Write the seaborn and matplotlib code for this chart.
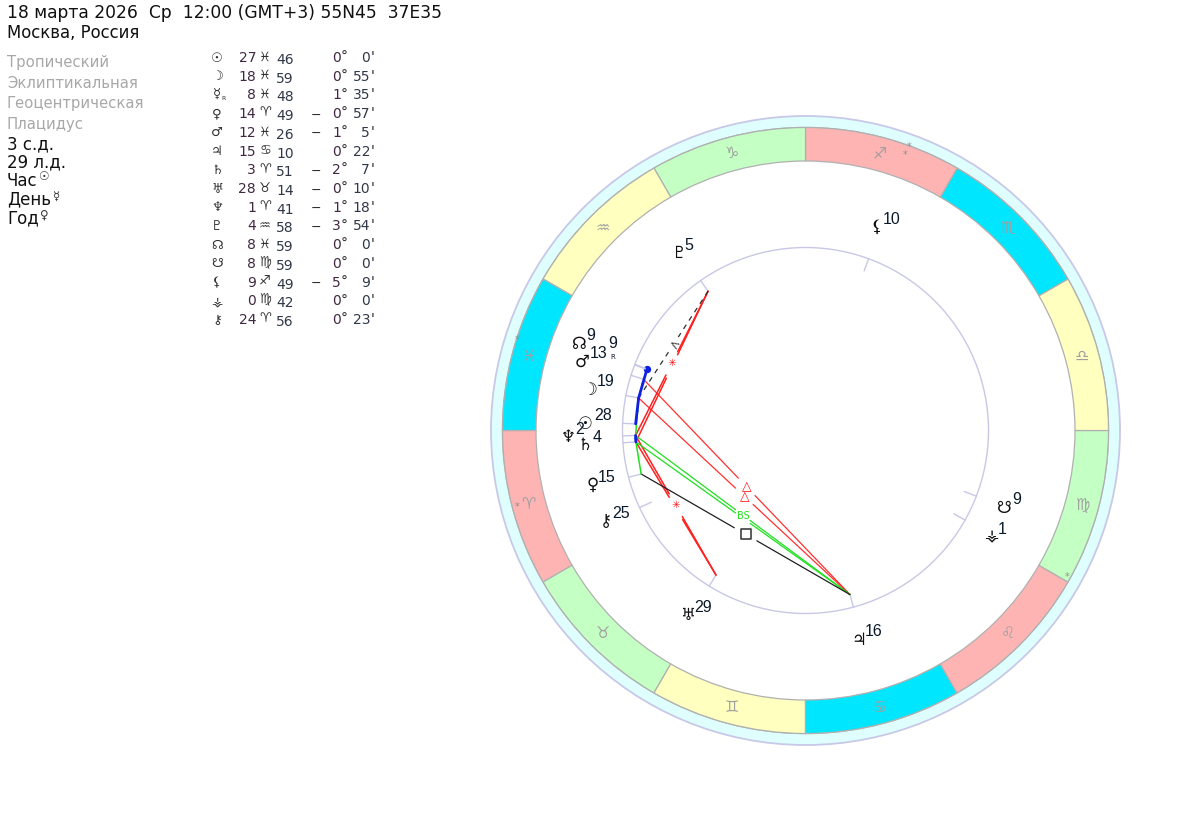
import numpy as np
import pandas as pd
import matplotlib
matplotlib.use("Agg")
import matplotlib.pyplot as plt
from matplotlib.patches import Wedge, Circle
import seaborn as sns

sns.set_style("white")
plt.rcParams["font.family"] = ["DejaVu Sans", "Noto Sans"]

# table values
body_names = ["sun", "moon", "mercury", "venus", "mars", "jupiter", "saturn", "uranus",
              "neptune", "pluto", "nnode", "snode", "lilith", "selena", "chiron"]
body_glyphs = ["☉", "☽", "☿", "♀", "♂", "♃", "♄", "♅", "♆", "♇", "☊", "☋", "⚸", "⚶", "⚷"]
body_deg = [27, 18, 8, 14, 12, 15, 3, 28, 1, 4, 8, 8, 9, 0, 24]
body_sign = [11, 11, 11, 0, 11, 3, 0, 1, 0, 10, 11, 5, 8, 5, 0]
body_min = [46, 59, 48, 49, 26, 10, 51, 14, 41, 58, 59, 59, 49, 42, 56]
speed_neg = [False, False, False, True, True, False, True, True, True, True, False, False, True, False, False]
speed_deg = [0, 0, 1, 0, 1, 0, 2, 0, 1, 3, 0, 0, 5, 0, 0]
speed_min = [0, 55, 35, 57, 5, 22, 7, 10, 18, 54, 0, 0, 9, 0, 23]

sign_glyphs = ["♈", "♉", "♊", "♋", "♌", "♍", "♎", "♏", "♐", "♑", "♒", "♓"]
sign_colors = ["#FFB4B4", "#C4FFC4", "#FFFFC0", "#00E6FF"] * 3

# aspect lines
aspect_pairs = {
    "trine": [("jupiter", "mars"), ("jupiter", "moon")],
    "sextile": [("pluto", "neptune"), ("pluto", "saturn"), ("uranus", "neptune"), ("uranus", "saturn")],
    "biseptile": [("jupiter", "neptune"), ("jupiter", "saturn")],
    "square": [("venus", "jupiter")],
    "semisquare": [("pluto", "moon")],
}
conj_blue = [("mercury", "moon"), ("moon", "sun"), ("neptune", "saturn")]
conj_green = [("moon", "neptune"), ("saturn", "venus")]

header = "18 марта 2026  Ср  12:00 (GMT+3) 55N45  37E35"
place = "Москва, Россия"
grey_lines = ["Тропический", "Эклиптикальная", "Геоцентрическая", "Плацидус"]
black_lines = ["3 с.д.", "29 л.д."]
ruler_lines = [("Час", "☉"), ("День", "☿"), ("Год", "♀")]

# chart label placement (px)
label_pos = {
    "sun": (585, 424, 603, 415), "moon": (589, 390, 606, 382), "venus": (593, 485, 607, 478),
    "mars": (582, 362, 599, 353), "jupiter": (859, 640, 874, 632), "saturn": (585, 445, 597, 437),
    "uranus": (688, 615, 703, 607), "neptune": (568, 437, 580, 430), "pluto": (678, 253, 689, 245),
    "nnode": (579, 344, 591, 336), "snode": (1004, 508, 1017, 500), "lilith": (876, 227, 892, 219),
    "selena": (991, 536, 1002, 529), "chiron": (606, 521, 621, 514),
}
label_num = {"sun": "28", "moon": "19", "venus": "15", "mars": "13", "jupiter": "16", "saturn": "4",
             "uranus": "29", "neptune": "2", "pluto": "5", "nnode": "9", "snode": "9", "lilith": "10",
             "selena": "1", "chiron": "25"}
star_spots = [(909, 147), (905, 155), (517, 340), (517, 507), (1067, 577)]

cx, cy = 805.5, 430.5
r_out, r_ring, r_in, r_house, r_tick = 314.5, 303, 269.5, 183, 170

lon = {n: s * 30 + d + m / 60 for n, s, d, m in zip(body_names, body_sign, body_deg, body_min)}


def pt(longitude, r):
    t = np.radians(180 + longitude)
    return cx + r * np.cos(t), cy - r * np.sin(t)


fig = plt.figure(figsize=(12, 8.36), dpi=100)
ax = fig.add_axes([0, 0, 1, 1])

# zodiac ring
ax.add_patch(Circle((cx, cy), r_out, fc="#DFFFFF", ec="#C8C8E8", lw=1.3))
ax.add_patch(Circle((cx, cy), r_ring, fc="white", ec="#B0B0B0", lw=1))
for i, col in enumerate(sign_colors):
    t1 = -(180 + (i + 1) * 30)
    ax.add_patch(Wedge((cx, cy), r_ring, t1, t1 + 30, width=r_ring - r_in, fc=col, ec="#B0B0B0", lw=0.9))
    x, y = pt(i * 30 + 15, 286.5)
    ax.text(x, y, sign_glyphs[i], color="#A0A0A0", fontsize=11.5, ha="center", va="center")
for x, y in star_spots:
    ax.text(x, y, "*", color="#909090", fontsize=7, ha="center", va="center")

ax.add_patch(Circle((cx, cy), r_house, fc="white", ec="#C8C8E6", lw=1))

# planet ticks on the inner circle
tick_rows = []
for n in body_names:
    for r in (r_house, r_tick):
        x, y = pt(lon[n], r)
        tick_rows.append({"x": x, "y": y, "body": n})
sns.lineplot(data=pd.DataFrame(tick_rows), x="x", y="y", units="body", estimator=None, sort=False,
             color="#C8C8E6", lw=1, legend=False, ax=ax)


def chord_frame(pairs, gap):
    rows = []
    mids = []
    for k, (a, b) in enumerate(pairs):
        xa, ya = pt(lon[a], r_tick)
        xb, yb = pt(lon[b], r_tick)
        mx, my = (xa + xb) / 2, (ya + yb) / 2
        mids.append((mx, my))
        d = np.hypot(xb - xa, yb - ya)
        ux, uy = (xb - xa) / d, (yb - ya) / d
        rows.append({"x": xa, "y": ya, "seg": f"{k}a"})
        rows.append({"x": mx - ux * gap, "y": my - uy * gap, "seg": f"{k}a"})
        rows.append({"x": mx + ux * gap, "y": my + uy * gap, "seg": f"{k}b"})
        rows.append({"x": xb, "y": yb, "seg": f"{k}b"})
    return pd.DataFrame(rows), mids


def draw_chords(pairs, gap, color, lw=0.9, ls="-"):
    df, mids = chord_frame(pairs, gap)
    sns.lineplot(data=df, x="x", y="y", units="seg", estimator=None, sort=False,
                 color=color, lw=lw, ls=ls, legend=False, ax=ax)
    return mids


mids = draw_chords(aspect_pairs["trine"], 12, "#FF3030")
for mx, my in mids:
    ax.text(mx, my, "△", color="#FF1010", fontsize=9, fontweight="bold", ha="center", va="center")
mids = draw_chords(aspect_pairs["sextile"], 13, "#FF2020", lw=1.1)
for mx, my in (mids[0], mids[2]):
    ax.text(mx, my, "✳", color="#FF1010", fontsize=7.5, ha="center", va="center")
mids = draw_chords(aspect_pairs["biseptile"], 9, "#20E020")
ax.text(mids[0][0] + 1, mids[0][1] + 0.5, "BS", color="#20E020", fontsize=7, ha="center", va="center")
mids = draw_chords(aspect_pairs["square"], 13, "#202020")
square_df = pd.DataFrame({"x": [mids[0][0]], "y": [mids[0][1]]})
sns.scatterplot(data=square_df, x="x", y="y", marker="s", s=60, facecolor="white", edgecolor="#404040",
                linewidth=1.2, legend=False, ax=ax)
mids = draw_chords(aspect_pairs["semisquare"], 9, "#303030", lw=0.9, ls=(0, (4, 4)))
ax.text(mids[0][0], mids[0][1], "<", color="#404040", fontsize=9, rotation=-30, ha="center", va="center")

# close conjunction chains
for color, pairs, width in [("#20E020", conj_green, 1.1), ("#1020E0", conj_blue, 2)]:
    draw_chords(pairs, 0, color, lw=width)
merc = pd.DataFrame([dict(zip("xy", pt(lon["mercury"], r_tick)))])
sns.scatterplot(data=merc, x="x", y="y", color="#1020E0", s=28, linewidth=0, legend=False, ax=ax)

# planet glyphs and degree labels on the chart
glyph_of = dict(zip(body_names, body_glyphs))
for n, (gx, gy, tx, ty) in label_pos.items():
    weight = "bold" if n == "lilith" else "normal"
    ax.text(gx, gy, glyph_of[n], color="#101010", fontsize=12, fontweight=weight, ha="center", va="center")
    ax.text(tx, ty, label_num[n], color="#0A1A2A", fontsize=11.5, family="Liberation Sans", ha="center", va="center")
ax.text(613, 344, "9", color="#0A1A2A", fontsize=11.5, family="Liberation Sans", ha="center", va="center")
ax.text(613, 357, "R", color="#0A1A2A", fontsize=5, ha="center", va="center")

# header block
ax.text(7, 12.5, header, color="#101010", fontsize=12.35, ha="left", va="center")
ax.text(7, 33, place, color="#101010", fontsize=11.9, ha="left", va="center")
for i, s in enumerate(grey_lines):
    ax.text(7, 62.5 + i * 20.5, s, color="#A8A8A8", fontsize=10.7, ha="left", va="center")
for i, s in enumerate(black_lines):
    ax.text(7, 144 + i * 18.7, s, color="#101010", fontsize=12, ha="left", va="center")
for i, (s, g) in enumerate(ruler_lines):
    t = ax.text(7, 181 + i * 18.7, s, color="#101010", fontsize=12, ha="left", va="center")
    w = t.get_window_extent(fig.canvas.get_renderer()).width
    ax.text(7 + w + 6, 177 + i * 19, g, color="#303030", fontsize=8.5, ha="center", va="center")

# planet table
for i in range(len(body_names)):
    y = 58 + i * 18.72
    ax.text(217, y, body_glyphs[i], color="#303030", fontsize=9.5, ha="center", va="center")
    ax.text(256, y, str(body_deg[i]), color="#402840", fontsize=10, ha="right", va="center")
    ax.text(265, y - 1, sign_glyphs[body_sign[i]], color="#303030", fontsize=9.5, ha="center", va="center")
    ax.text(276, y + 2, f"{body_min[i]:02d}", color="#303848", fontsize=10, ha="left", va="center")
    if speed_neg[i]:
        ax.text(316, y + 1, "−", color="#303030", fontsize=9, ha="center", va="center")
    ax.text(341, y, str(speed_deg[i]), color="#402840", fontsize=10, ha="right", va="center")
    ax.text(341, y - 1, "°", color="#303030", fontsize=10, ha="left", va="center")
    ax.text(370, y, str(speed_min[i]), color="#303848", fontsize=10, ha="right", va="center")
    ax.text(371, y - 1, "'", color="#202020", fontsize=10, ha="left", va="center")
ax.text(224, 98, "R", color="#303030", fontsize=4.5, ha="center", va="center")

ax.set_xlim(0, 1200)
ax.set_ylim(836, 0)
ax.axis("off")
fig.savefig("out.png", dpi=100, facecolor="white")
